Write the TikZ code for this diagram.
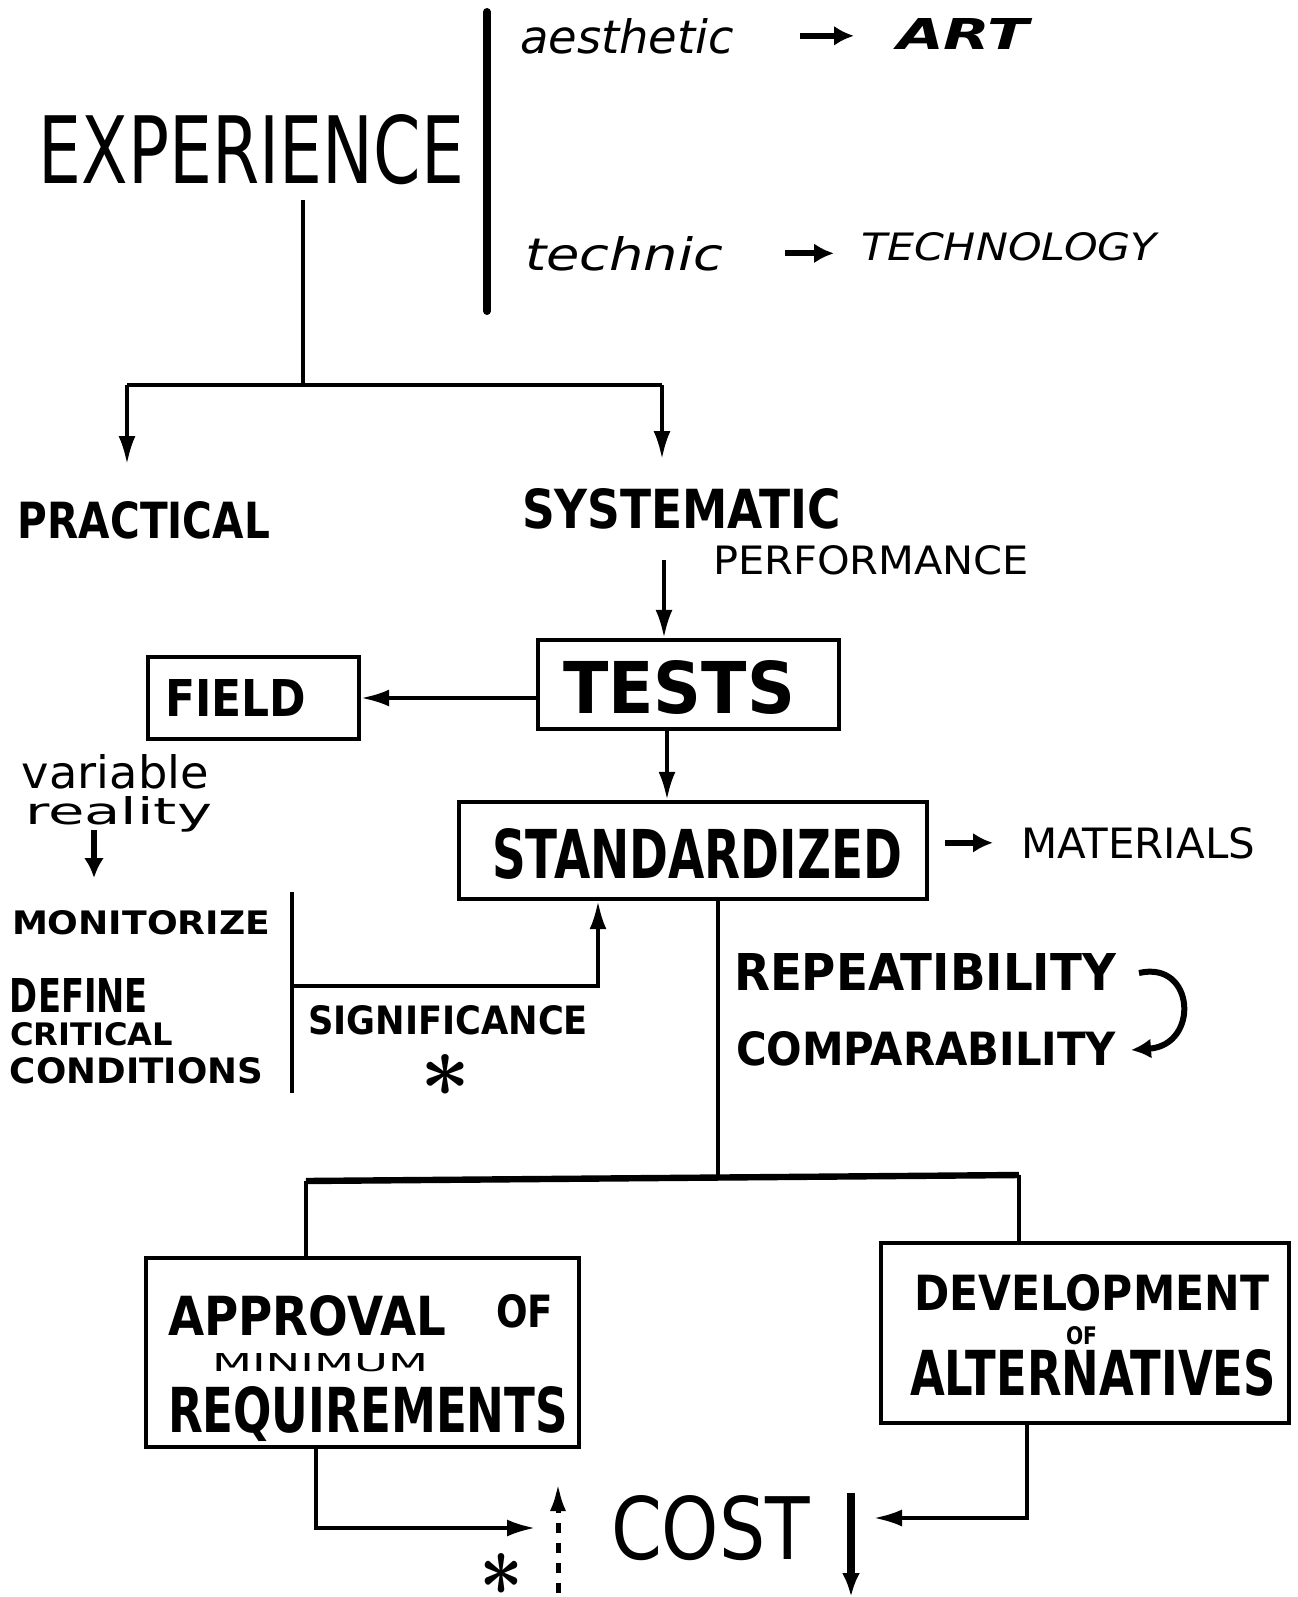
\documentclass[tikz,border=0pt]{standalone}
\usepackage{fontspec}
\setmainfont{DejaVu Sans}
\usepackage{graphicx}
\usetikzlibrary{arrows.meta}
\newcommand\fitt[3]{\resizebox{\dimexpr#1pt/2\relax}{\dimexpr#2pt/2\relax}{#3}}
\begin{document}
\begin{tikzpicture}[x=0.5pt,y=-0.5pt,
  txt/.style={inner sep=0pt, outer sep=0pt, anchor=base west},
  boxnode/.style={draw, line width=2.2pt, inner sep=0pt},
  conn/.style={line width=1.8pt},
  arr/.style={conn, -{Latex[length=14pt,width=8.5pt]}},
  sarr/.style={line width=3pt, -{Latex[length=10pt,width=10pt]}},
  heavy/.style={line width=4pt, line cap=round}]
\useasboundingbox (0,0) rectangle (1297,1597);
\fill[white] (0,0) rectangle (1297,1597);

% ---------- texts ----------
\node[txt] (aes) at (520,53) {\fitt{214}{35}{\itshape aesthetic}};
\node[txt] (art) at (897,49) {\fitt{132}{31}{\itshape\bfseries ART}};
\node[txt] (exp) at (39,183) {\fitt{425}{69}{EXPERIENCE}};
\node[txt] (tec) at (525,270) {\fitt{198}{34}{\itshape technic}};
\node[txt] (tgy) at (861,260) {\fitt{296}{28}{\itshape TECHNOLOGY}};
\node[txt] (prac) at (18,538) {\fitt{252}{37}{\bfseries PRACTICAL}};
\node[txt] (sys) at (522,528) {\fitt{319}{40}{\bfseries SYSTEMATIC}};
\node[txt] (perf) at (713,574) {\fitt{316}{29}{PERFORMANCE}};
\node[txt] (testsT) at (563,713) {\fitt{232}{53}{\bfseries TESTS}};
\node[txt] (fieldT) at (165,716) {\fitt{141}{37}{\bfseries FIELD}};
\node[txt] (stdT) at (492,878) {\fitt{410}{50}{\bfseries STANDARDIZED}};
\node[txt] (mat) at (1021,858) {\fitt{234}{31}{MATERIALS}};
\node[txt] (var) at (22,788) {\fitt{187}{34}{variable}};
\node[txt] (rea) at (25,824) {\fitt{187}{28}{reality}};
\node[txt] (mon) at (12,934) {\fitt{258}{24}{\bfseries MONITORIZE}};
\node[txt] (def) at (10,1012) {\fitt{138}{34}{\bfseries DEFINE}};
\node[txt] (cri) at (10,1045) {\fitt{163}{23}{\bfseries CRITICAL}};
\node[txt] (con) at (10,1083) {\fitt{253}{26}{\bfseries CONDITIONS}};
\node[txt] (sig) at (308,1034) {\fitt{280}{29}{\bfseries SIGNIFICANCE}};
\node[inner sep=0pt] (ast1) at (446,1075) {\fitt{50}{42}{\boldmath$\ast$}};
\node[txt] (rep) at (734,990) {\fitt{382}{37}{\bfseries REPEATIBILITY}};
\node[txt] (com) at (736,1065) {\fitt{380}{34}{\bfseries COMPARABILITY}};
\node[txt] (appT) at (168,1335) {\fitt{278}{40}{\bfseries APPROVAL}};
\node[txt] (of1) at (496,1327) {\fitt{57}{33}{\bfseries OF}};
\node[txt] (minT) at (212,1371) {\fitt{216}{18}{MINIMUM}};
\node[txt] (reqT) at (168,1432) {\fitt{400}{46}{\bfseries REQUIREMENTS}};
\node[txt] (devT) at (914,1310) {\fitt{355}{36}{\bfseries DEVELOPMENT}};
\node[txt] (of2) at (1066,1344) {\fitt{31}{18}{\bfseries OF}};
\node[txt] (altT) at (910,1395) {\fitt{366}{46}{\bfseries ALTERNATIVES}};
\node[txt] (cost) at (611,1559) {\fitt{199}{64}{COST}};
\node[inner sep=0pt] (ast2) at (502,1574) {\fitt{44}{42}{\boldmath$\ast$}};

% ---------- boxes ----------
\node[boxnode, minimum width=150.5pt, minimum height=44.5pt] (tests) at (688.5,684.5) {};
\node[boxnode, minimum width=105.5pt, minimum height=41pt] (field) at (253.5,698) {};
\node[boxnode, minimum width=234pt, minimum height=48.5pt] (std) at (693,850.5) {};
\node[boxnode, minimum width=216.5pt, minimum height=94.5pt] (appr) at (362.5,1352.5) {};
\node[boxnode, minimum width=204pt, minimum height=90pt] (dev) at (1085,1333) {};

% ---------- coordinates ----------
\coordinate (tv1) at (487,12);
\coordinate (tv2) at (487,311);
\coordinate (jl) at (127,385);
\coordinate (jm) at (303,385);
\coordinate (jr) at (662,385);
\coordinate (sx) at (664,560);
\coordinate (x667) at (667,0);
\coordinate (va) at (94,830);
\coordinate (vb) at (94,878);
\coordinate (br1) at (292,892);
\coordinate (br2) at (292,1093);
\coordinate (brm) at (292,986);
\coordinate (brr) at (598,986);
\coordinate (x718) at (718,0);
\coordinate (hlL) at (306,1181);
\coordinate (hlR) at (1019,1175);
\coordinate (hlM) at (718,1178);
\coordinate (x316) at (316,0);
\coordinate (ca) at (535,1528);
\coordinate (x1027) at (1027,0);
\coordinate (cd) at (874,1518);
\coordinate (d1) at (558,1593);
\coordinate (d2) at (558,1483);
\coordinate (k1) at (851,1493);
\coordinate (k2) at (851,1597);
\coordinate (r1) at (1139,973);
\coordinate (r2) at (1131,1050);

% ---------- connectors ----------
\draw[heavy] (tv1) -- (tv2);
\draw[sarr, shorten <=33pt, shorten >=21.5pt] (aes.east) -- (aes.east -| art.west);
\draw[sarr, shorten <=31pt, shorten >=13.5pt] (tec.east) -- (tec.east -| tgy.west);
\draw[conn, shorten <=8pt] (exp.south -| jm) -- (jm);
\draw[conn] (jl) -- (jr);
\draw[arr, shorten >=18.5pt] (jl) -- (jl |- prac.north);
\draw[arr, shorten >=14.5pt] (jr) -- (jr |- sys.north);
\draw[arr] (sx) -- (sx |- tests.north);
\draw[arr] (tests.west |- field.east) -- (field.east);
\draw[arr] (tests.south -| x667) -- (std.north -| x667);
\draw[sarr, shorten <=8pt, shorten >=14pt] (std.east |- mat.west) -- (mat.west);
\draw[sarr] (va) -- (vb);
\draw[conn] (br1) -- (br2);
\draw[arr] (brm) -- (brr) -- (brr |- std.south);
\draw[conn] (std.south -| x718) -- (hlM);
\draw[line width=3.2pt] (hlL) -- (hlR);
\draw[conn] (hlL) -- (hlL |- appr.north);
\draw[conn] (hlR) -- (hlR |- dev.north);
\draw[arr] (appr.south -| x316) |- (ca);
\draw[arr] (dev.south -| x1027) |- (cd);
\draw[line width=2.5pt, dash pattern=on 5pt off 5pt, -{Latex[length=14pt,width=8pt]}] (d1) -- (d2);
\draw[line width=4pt, -{Latex[length=12pt,width=9pt]}] (k1) -- (k2);
\draw[sarr] (r1) .. controls (1195,960) and (1200,1045) .. (r2);
\end{tikzpicture}
\end{document}
